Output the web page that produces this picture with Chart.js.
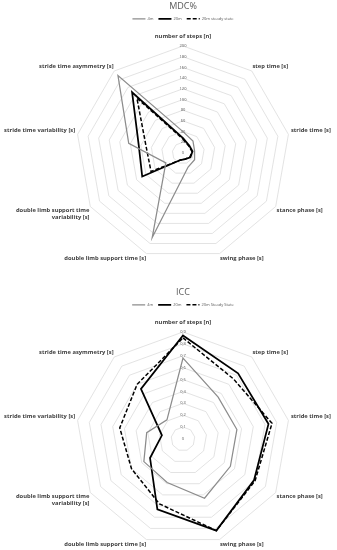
<!DOCTYPE html>
<html>
<head>
<meta charset="utf-8">
<script src="https://cdn.jsdelivr.net/npm/chart.js@4"></script>
<style>
  body { margin: 0; background: #fff; overflow: hidden; }
  .wrap { position: absolute; left: -12px; width: 390px; height: 269px; }
</style>
</head>
<body>
<div class="wrap" style="top:0"><canvas id="mdcChart"></canvas></div>
<div class="wrap" style="top:286px"><canvas id="iccChart"></canvas></div>
<script>
// Axis categories (clockwise from top)
const axisLabels = [
    'number of steps [n]',
    'step time [s]',
    'stride time [s]',
    'stance phase [s]',
    'swing phase [s]',
    'double limb support time [s]',
    ['double limb support time', 'variability [s]'],
    'stride time variability [s]',
    'stride time asymmetry [s]'
];

// MDC% values
const mdc4m = [40, 29, 22, 25, 28, 168, 37, 103, 189];
const mdc20m = [28, 18, 18, 16, 12, 14, 88, 84, 148];
const mdc20mSteady = [26, 17, 17, 15, 12, 14, 69, 70, 134];
const mdcTicks = ['0', '20', '40', '60', '80', '100', '120', '140', '160', '180', '200'];
const mdcNames = ['4m', '20m', '20m steady state'];

// ICC values
const icc4m = [0.68, 0.46, 0.46, 0.46, 0.53, 0.39, 0.38, 0.31, 0.21];
const icc20m = [0.87, 0.72, 0.73, 0.69, 0.82, 0.63, 0.32, 0.18, 0.55];
const icc20mSteady = [0.85, 0.66, 0.76, 0.70, 0.82, 0.58, 0.50, 0.54, 0.60];
const iccTicks = ['0', '0,1', '0,2', '0,3', '0,4', '0,5', '0,6', '0,7', '0,8', '0,9'];
const iccNames = ['4m', '20m', '20m Steady State'];

const FONT = 'Open Sans';
// gap between each axis end and its label
const labelPadding = [2, -3, -1.5, -3, -3, -3, -3, -1.5, -3];

// Chart.js skips the centre tick label, so draw it here
const zeroLabel = {
    id: 'zeroLabel',
    beforeDatasetsDraw(chart, args, opts) {
        const r = chart.scales.r;
        const ctx = chart.ctx;
        ctx.save();
        ctx.font = '4px "' + FONT + '"';
        ctx.fillStyle = '#595959';
        ctx.textAlign = 'center';
        ctx.textBaseline = 'middle';
        ctx.fillText(opts.text, r.xCenter, r.yCenter);
        ctx.restore();
    }
};

// legend items take dash/width from the dataset line, not the point
function legendLabels(chart) {
    const items = Chart.defaults.plugins.legend.labels.generateLabels(chart);
    items.forEach(item => {
        const ds = chart.data.datasets[item.datasetIndex];
        item.lineDash = ds.borderDash || [];
        item.lineWidth = ds.borderWidth;
        item.strokeStyle = ds.borderColor;
    });
    return items;
}

function makeRadar(id, title, names, series, max, step, ticks) {
    const ctx = document.getElementById(id).getContext('2d');
    return new Chart(ctx, {
        type: 'radar',
        data: {
            labels: axisLabels,
            datasets: [
                {
                    label: names[0],
                    data: series[0],
                    borderColor: '#8c8c8c',
                    borderWidth: 1.25
                },
                {
                    label: names[1],
                    data: series[1],
                    borderColor: '#000000',
                    borderWidth: 1.75
                },
                {
                    label: names[2],
                    data: series[2],
                    borderColor: '#000000',
                    borderWidth: 1.5,
                    borderDash: [4, 2]
                }
            ]
        },
        options: {
            responsive: true,
            maintainAspectRatio: false,
            animation: false,
            layout: { padding: 0 },
            elements: {
                point: { radius: 0, hoverRadius: 0 },
                line: { fill: false, tension: 0 }
            },
            scales: {
                r: {
                    min: 0,
                    max: max,
                    ticks: {
                        stepSize: step,
                        font: { family: FONT, size: 4 },
                        color: '#595959',
                        showLabelBackdrop: false,
                        callback: (v, i) => ticks[i]
                    },
                    grid: { color: '#d9d9d9', lineWidth: 0.75 },
                    angleLines: { display: false },
                    pointLabels: {
                        font: { family: FONT, size: 5.8, weight: 'bold' },
                        color: '#404040',
                        padding: (c) => labelPadding[c.index]
                    }
                }
            },
            plugins: {
                title: {
                    display: true,
                    text: title,
                    color: '#595959',
                    font: { family: FONT, size: 9, weight: 'normal' },
                    padding: { top: 1, bottom: 0 }
                },
                legend: {
                    maxHeight: 17.2,
                    labels: {
                        usePointStyle: true,
                        pointStyle: 'line',
                        pointStyleWidth: 13,
                        boxHeight: 4,
                        padding: 5,
                        color: '#595959',
                        font: { family: FONT, size: 4 },
                        generateLabels: legendLabels
                    }
                },
                tooltip: { enabled: false },
                zeroLabel: { text: ticks[0] }
            }
        },
        plugins: [zeroLabel]
    });
}

makeRadar('mdcChart', 'MDC%', mdcNames, [mdc4m, mdc20m, mdc20mSteady], 200, 20, mdcTicks);
makeRadar('iccChart', 'ICC', iccNames, [icc4m, icc20m, icc20mSteady], 0.9, 0.1, iccTicks);
</script>
</body>
</html>
